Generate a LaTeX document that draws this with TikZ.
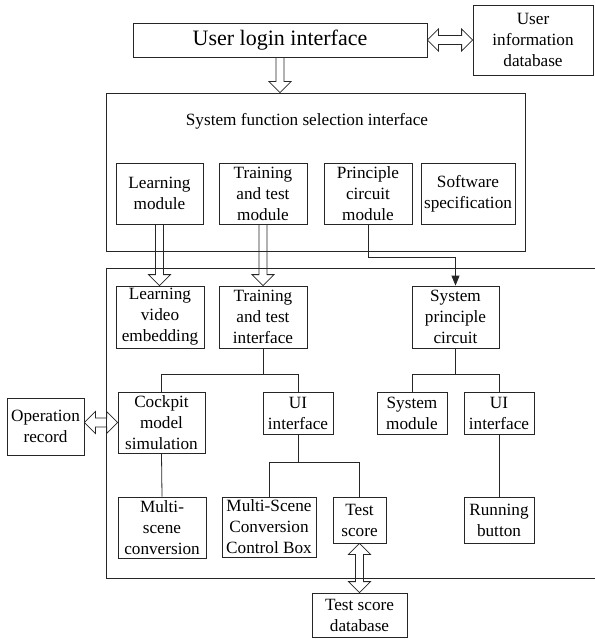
\documentclass[tikz,border=0pt]{standalone}
\usepackage{fontspec}
\setmainfont{Liberation Serif}
\usetikzlibrary{arrows.meta,calc}
\tikzset{
  box/.style={draw=black!85, line width=0.8pt, inner sep=0pt, align=center,
    font=\fontsize{17.2}{21}\selectfont},
  frame/.style={draw=black!85, line width=0.8pt, inner sep=0pt},
  lbl/.style={inner sep=0pt, font=\fontsize{17.2}{21}\selectfont},
  link/.style={draw=black!85, line width=0.8pt},
  blk/.style={draw=black!85, line width=0.8pt, line join=miter},
}
% single hollow block arrow from #1 (top) down to #2 (tip)
\newcommand\vHollow[2]{%
  \path[blk] let \p1=(#1), \p2=(#2) in
    (\x1-4pt,\y1) -- (\x1-4pt,\y2+11pt) -- (\x1-11pt,\y2+11pt) -- (\x1,\y2)
    -- (\x1+11pt,\y2+11pt) -- (\x1+4pt,\y2+11pt) -- (\x1+4pt,\y1);}
% vertical double hollow arrow between #1 (top tip) and #2 (bottom tip)
\newcommand\vHollowDouble[2]{%
  \path[blk] let \p1=(#1), \p2=(#2) in
    (\x1,\y1) -- (\x1+11pt,\y1-11pt) -- (\x1+4pt,\y1-11pt) -- (\x1+4pt,\y2+11pt)
    -- (\x1+11pt,\y2+11pt) -- (\x1,\y2) -- (\x1-11pt,\y2+11pt) -- (\x1-4pt,\y2+11pt)
    -- (\x1-4pt,\y1-11pt) -- (\x1-11pt,\y1-11pt) -- cycle;}
% horizontal double hollow arrow between #1 (left tip) and #2 (right tip)
\newcommand\hHollowDouble[2]{%
  \path[blk] let \p1=(#1), \p2=(#2) in
    (\x1,\y1) -- (\x1+11pt,\y1+11pt) -- (\x1+11pt,\y1+4.5pt) -- (\x2-11pt,\y1+4.5pt)
    -- (\x2-11pt,\y1+11pt) -- (\x2,\y1) -- (\x2-11pt,\y1-11pt) -- (\x2-11pt,\y1-4.5pt)
    -- (\x1+11pt,\y1-4.5pt) -- (\x1+11pt,\y1-11pt) -- cycle;}
\begin{document}
\begin{tikzpicture}[x=1pt,y=-1pt]
\useasboundingbox (0,0) rectangle (594,639);
% top
\node[box, font=\fontsize{22}{26}\selectfont, minimum width=294pt, minimum height=34pt] (login) at (280,40) {User login interface};
\node[box, minimum width=120pt, minimum height=70pt] (udb) at (533,40) {User\\information\\database};
% system function selection
\node[frame, minimum width=419pt, minimum height=158pt] (sf) at (315.5,172) {};
\node[lbl] (sftitle) at (307,121) {System function selection interface};
\node[box, minimum width=87pt, minimum height=61pt] (lm) at (159.5,193.5) {Learning\\module};
\node[box, minimum width=88pt, minimum height=61pt] (ttm) at (263,193.5) {Training\\and test\\module};
\node[box, minimum width=88pt, minimum height=61pt] (pcm) at (368,193.5) {Principle\\circuit\\module};
\node[box, minimum width=94pt, minimum height=61pt] (ss) at (468,193.5) {Software\\specification};
% lower frame (its right side lies beyond the page edge)
\node[frame, minimum width=496pt, minimum height=310pt] (low) at (354,423) {};
\node[box, minimum width=88pt, minimum height=62pt] (lve) at (160,317) {Learning\\video\\embedding};
\node[box, minimum width=88pt, minimum height=62pt] (tti) at (263,317) {Training\\and test\\interface};
\node[box, minimum width=87pt, minimum height=62pt] (spc) at (455.5,317) {System\\principle\\circuit};
\node[box, minimum width=87pt, minimum height=61pt] (cockpit) at (161.5,422.5) {Cockpit\\model\\simulation};
\node[box, minimum width=70pt, minimum height=42pt] (uil) at (298,413) {UI\\interface};
\node[box, minimum width=70pt, minimum height=42pt] (sm) at (412,413) {System\\module};
\node[box, minimum width=70pt, minimum height=42pt] (uir) at (499,413) {UI\\interface};
\node[box, minimum width=77pt, minimum height=57pt] (opr) at (45.5,426.5) {Operation\\record};
\node[box, minimum width=88pt, minimum height=61pt] (msc) at (162,527.5) {Multi-\\scene\\conversion};
\node[box, minimum width=94pt, minimum height=60pt] (mscb) at (269,527) {Multi-Scene\\Conversion\\Control Box};
\node[box, minimum width=53pt, minimum height=46pt] (ts) at (359.5,520) {Test\\score};
\node[box, minimum width=70pt, minimum height=46pt] (rb) at (499,520) {Running\\button};
\node[box, minimum width=95pt, minimum height=44pt] (tsdb) at (359.5,615) {Test score\\database};
% tree connectors
\draw[link] (tti.south) -- ++(0,26) coordinate (t1) -| (cockpit.north);
\draw[link] (t1) -| (uil.north);
\draw[link] (spc.south) -- ++(0,26) coordinate (t2) -| (sm.north);
\draw[link] (t2) -| (uir.north);
\draw[link] (cockpit.south) -- (msc.north);
\draw[link] (uil.south) -- ++(0,28) coordinate (t3) -| (mscb.north);
\draw[link] (t3) -| (ts.north);
\draw[link] (uir.south) -- (rb.north);
% principle circuit arrow
\draw[link, -{Triangle[length=10pt,width=8pt]}] (pcm.south) -- ++(0,33) -| (spc.north);
% hollow arrows
\vHollow{login.south}{login.south |- sf.north}
\vHollow{lm.south}{lve.north}
\vHollow{ttm.south}{tti.north}
\vHollowDouble{ts.south}{ts.south |- tsdb.north}
\hHollowDouble{login.east}{udb.west |- login.east}
\hHollowDouble{opr.east |- cockpit.west}{cockpit.west}
\end{tikzpicture}
\end{document}
